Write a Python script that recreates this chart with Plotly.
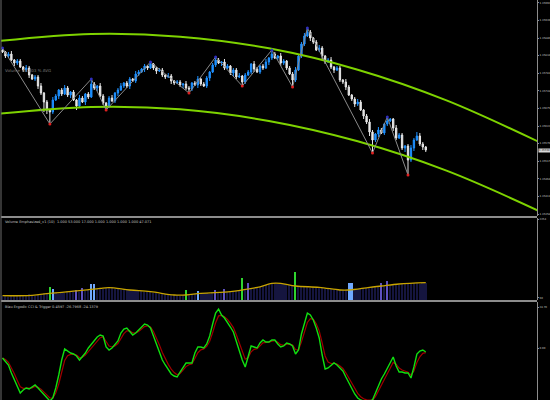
import plotly.graph_objects as go
import pandas as pd

# ---------------- main chart data (prices in points, 1 point = 0.00001) ----------------
first_open_points = 135850
close_points = [
    135844, 135832, 135838, 135820, 135811, 135817, 135799, 135790, 135796, 135775, 135763, 135769,
    135742, 135721, 135694, 135670, 135664, 135700, 135712, 135730, 135718, 135736, 135715, 135724,
    135700, 135682, 135706, 135694, 135718, 135709, 135748, 135736, 135742, 135712, 135691, 135682,
    135706, 135697, 135721, 135730, 135742, 135751, 135742, 135763, 135757, 135778, 135784, 135793,
    135802, 135796, 135808, 135796, 135787, 135790, 135775, 135769, 135772, 135757, 135751, 135754,
    135745, 135748, 135736, 135733, 135751, 135745, 135763, 135748, 135742, 135766, 135784, 135805,
    135820, 135811, 135814, 135796, 135802, 135781, 135790, 135769, 135772, 135754, 135775, 135784,
    135808, 135793, 135784, 135802, 135796, 135814, 135826, 135838, 135826, 135832, 135811, 135817,
    135796, 135778, 135760, 135790, 135832, 135868, 135892, 135904, 135886, 135874, 135850, 135856,
    135832, 135814, 135820, 135799, 135790, 135796, 135760, 135754, 135739, 135715, 135703, 135688,
    135694, 135670, 135652, 135634, 135604, 135580, 135598, 135610, 135601, 135628, 135637, 135643,
    135616, 135586, 135595, 135556, 135562, 135520, 135556, 135580, 135592, 135568, 135559, 135550,
]
upper_wick_points = [
    6, 3, 6, 9, 3, 6, 6, 3, 9, 6, 3, 6,
    6, 9, 3, 6, 3, 9, 6, 3, 6, 9, 6, 3,
    6, 3, 9, 6, 3, 6, 15, 6, 3, 9, 6, 3,
    6, 9, 3, 6, 9, 3, 6, 6, 3, 9, 6, 3,
    6, 3, 6, 3, 3, 6, 6, 3, 9, 6, 3, 6,
    6, 3, 9, 6, 3, 6, 9, 3, 6, 6, 3, 6,
    9, 6, 3, 9, 6, 3, 6, 6, 9, 3, 6, 6,
    3, 9, 6, 3, 6, 9, 3, 12, 6, 3, 9, 6,
    3, 6, 6, 9, 3, 6, 9, 12, 6, 3, 6, 9,
    6, 3, 6, 9, 3, 6, 6, 3, 9, 6, 3, 6,
    9, 6, 3, 6, 9, 6, 3, 9, 6, 3, 12, 3,
    3, 9, 6, 6, 3, 6, 9, 6, 12, 9, 6, 3,
]
lower_wick_points = [
    3, 6, 6, 3, 9, 6, 3, 6, 6, 9, 3, 6,
    9, 6, 30, 12, 36, 6, 3, 9, 6, 3, 6, 9,
    3, 12, 6, 3, 9, 6, 3, 6, 9, 3, 6, 12,
    6, 3, 6, 9, 3, 6, 6, 9, 3, 6, 6, 3,
    9, 6, 3, 6, 9, 3, 6, 6, 3, 9, 6, 3,
    6, 9, 6, 12, 6, 3, 9, 6, 3, 6, 9, 3,
    6, 3, 9, 6, 3, 6, 9, 6, 3, 12, 6, 3,
    6, 9, 3, 6, 6, 3, 9, 6, 3, 6, 9, 6,
    6, 3, 21, 6, 3, 6, 6, 3, 9, 6, 3, 6,
    9, 6, 3, 6, 9, 3, 6, 6, 9, 3, 6, 9,
    6, 3, 9, 6, 12, 39, 6, 9, 3, 6, 6, 3,
    9, 6, 3, 6, 12, 45, 6, 9, 3, 6, 9, 6,
]
zigzag_bars = [0, 16, 30, 35, 50, 63, 72, 81, 91, 98, 103, 125, 130, 137]
zigzag_kind = ["H", "L", "H", "L", "H", "L", "H", "L", "H", "L", "H", "L", "H", "L"]

channel_bars = [-1, 30, 60, 90, 120, 150, 182]
channel_upper = [1.35877, 1.35898, 1.35890, 1.35855, 1.35791, 1.35699, 1.35571]
channel_lower = [1.35659, 1.35679, 1.35672, 1.35637, 1.35576, 1.35488, 1.35364]

price_ticks = [1.35992, 1.35939, 1.35886, 1.35834, 1.35781, 1.35728, 1.35675,
               1.35622, 1.35570, 1.35517, 1.35464, 1.35411, 1.35358]

# ---------------- volume panel ----------------
volumes = [
    110, 140, 95, 130, 120, 150, 100, 135, 125, 160, 140, 120,
    170, 150, 190, 200, 373, 308, 210, 180, 230, 200, 250, 220,
    240, 280, 230, 336, 260, 280, 448, 440, 300, 340, 310, 350,
    330, 360, 300, 320, 290, 310, 270, 290, 250, 270, 240, 260,
    220, 250, 220, 200, 210, 180, 170, 160, 150, 140, 130, 150,
    120, 140, 280, 150, 160, 180, 252, 190, 200, 210, 180, 220,
    280, 210, 230, 308, 220, 240, 230, 250, 260, 616, 280, 476,
    300, 330, 350, 360, 390, 410, 440, 450, 480, 460, 470, 440,
    420, 410, 400, 784, 380, 370, 390, 360, 350, 370, 340, 350,
    330, 320, 300, 310, 290, 280, 270, 290, 280, 476, 470, 290,
    300, 320, 330, 340, 350, 360, 370, 380, 476, 400, 532, 400,
    420, 410, 430, 440, 450, 460, 440, 470, 480, 460, 490, 480,
]
green_bars = [16, 62, 81, 99]
lightblue_bars = [17, 30, 31, 66, 117, 118]
purple_bars = [25, 27, 72, 75, 83, 128, 130]
ma_bars = [0, 10, 16, 26, 33, 36, 43, 50, 58, 62, 67, 77, 81, 87, 91, 94, 99, 107, 114, 117, 124, 128, 134, 143]
ma_values = [120, 132, 188, 260, 327, 345, 280, 233, 140, 140, 187, 233, 280, 370, 467, 467, 392, 355, 280, 280, 355, 392, 448, 485]

# ---------------- Blau ergodic panel ----------------
ergodic = [
    -7.0, -9.1, -11.9, -17.5, -22.4, -27.3, -31.5, -29.4, -28.0, -28.7, -27.3, -25.9,
    -28.0, -30.1, -32.9, -35.0, -37.1, -35.0, -28.0, -18.9, -8.4, -0.7, -2.1, -3.5,
    -4.2, -5.6, -8.4, -6.3, -3.5, 0.0, 2.8, 5.6, 7.7, 9.1, 8.4, 0.7,
    -1.4, 0.0, 2.1, 4.9, 10.5, 13.3, 14.0, 11.9, 9.1, 10.5, 12.6, 14.7,
    16.8, 16.1, 14.0, 8.4, 2.8, -2.8, -8.4, -11.9, -15.4, -18.2, -19.6, -20.3,
    -16.8, -13.3, -10.5, -10.5, -10.5, -3.5, 0.7, 0.7, 0.0, 2.8, 8.4, 16.8,
    24.5, 27.3, 23.1, 21.0, 18.2, 14.7, 11.2, 4.2, -2.1, -8.4, -13.3, -5.6,
    1.4, 0.7, 0.0, 3.5, 5.6, 4.2, 4.2, 5.6, 5.6, 2.8, 0.7, 1.4,
    3.5, 2.8, 1.4, -4.2, -1.4, 9.8, 18.2, 24.5, 23.1, 19.6, 14.0, 7.0,
    -4.9, -14.7, -14.0, -11.9, -10.5, -11.9, -14.0, -16.1, -20.3, -24.5, -28.7, -32.2,
    -35.0, -36.4, -37.1, -37.1, -37.1, -36.4, -31.5, -26.6, -21.7, -18.2, -14.0, -9.8,
    -6.3, -12.6, -16.8, -16.8, -17.5, -17.5, -21.0, -13.3, -4.2, -2.1, -1.4, -2.8,
]

# ---------------- derived ----------------
n = len(close_points)
bars = list(range(n))
P = 1e-5
closes = [c * P for c in close_points]
opens_pts = [first_open_points] + close_points[:-1]
opens = [o * P for o in opens_pts]
highs = [(max(o, c) + u) * P for o, c, u in zip(opens_pts, close_points, upper_wick_points)]
lows = [(min(o, c) - l) * P for o, c, l in zip(opens_pts, close_points, lower_wick_points)]
zz_y = [highs[i] if k == "H" else lows[i] for i, k in zip(zigzag_bars, zigzag_kind)]
trigger = pd.Series(ergodic).ewm(span=3, adjust=False).mean().tolist()

vol_colors = []
for i in bars:
    if i in green_bars:
        vol_colors.append("#2fd42f")
    elif i in lightblue_bars:
        vol_colors.append("#6fa8ff")
    elif i in purple_bars:
        vol_colors.append("#5e50c0")
    else:
        vol_colors.append("#15153f")

fig = go.Figure()

# regression channel
for ch in (channel_upper, channel_lower):
    fig.add_trace(go.Scatter(x=channel_bars, y=ch, mode="lines",
                             line=dict(color="#7ed300", width=2, shape="spline"),
                             xaxis="x", yaxis="y", hoverinfo="skip"))

fig.add_trace(go.Candlestick(
    x=bars, open=opens, high=highs, low=lows, close=closes,
    increasing=dict(line=dict(color="#1e90ff", width=1), fillcolor="#1e90ff"),
    decreasing=dict(line=dict(color="#e6e6e6", width=1), fillcolor="#e6e6e6"),
    whiskerwidth=0, xaxis="x", yaxis="y"))

# zigzag
fig.add_trace(go.Scatter(x=zigzag_bars, y=zz_y, mode="lines",
                         line=dict(color="#8a8a8a", width=1), xaxis="x", yaxis="y"))
fig.add_trace(go.Scatter(
    x=zigzag_bars, y=zz_y, mode="markers",
    marker=dict(size=3, color=["#3030c0" if k == "H" else "#e02020" for k in zigzag_kind]),
    xaxis="x", yaxis="y"))

# volume
fig.add_trace(go.Bar(x=bars, y=volumes, marker=dict(color=vol_colors, line=dict(width=0)),
                     width=0.55, xaxis="x", yaxis="y2"))
fig.add_trace(go.Scatter(x=ma_bars, y=ma_values, mode="lines",
                         line=dict(color="#c8a400", width=1.3, shape="spline", smoothing=1),
                         xaxis="x", yaxis="y2"))

# ergodic
fig.add_trace(go.Scatter(x=bars, y=trigger, mode="lines",
                         line=dict(color="#a00000", width=1.2), xaxis="x", yaxis="y3"))
fig.add_trace(go.Scatter(x=bars, y=ergodic, mode="lines",
                         line=dict(color="#10e010", width=1.4), xaxis="x", yaxis="y3"))

axis_common = dict(side="right", showgrid=False, zeroline=False, showline=True,
                   linecolor="#8c8c8c", linewidth=1, ticks="outside", ticklen=1,
                   tickcolor="#8c8c8c", automargin=False,
                   tickfont=dict(size=2.6, color="#c8c8c8", family="DejaVu Sans"),
                   fixedrange=True)

fig.update_layout(
    width=550, height=400,
    margin=dict(l=1, r=13, t=0, b=0, autoexpand=False),
    paper_bgcolor="black", plot_bgcolor="black",
    showlegend=False, hovermode=False, boxgap=0.35, bargap=0,
    xaxis=dict(range=[-0.507, 180.58], visible=False, rangeslider=dict(visible=False),
               fixedrange=True, automargin=False),
    yaxis=dict(domain=[0.46, 1.0], range=[1.35352, 1.36000],
               tickvals=price_ticks, ticktext=[f"{v:.5f}" for v in price_ticks], **axis_common),
    yaxis2=dict(domain=[0.25, 0.455], range=[0, 2296],
                tickvals=[2254, 60], ticktext=["2254", "60"], **axis_common),
    yaxis3=dict(domain=[0.0, 0.245], range=[-36.4, 32.2],
                tickvals=[28.7, 0.0], ticktext=["28.70", "0.00"], **axis_common),
    shapes=[
        dict(type="rect", xref="paper", yref="paper", x0=0, x1=1, y0=0.455, y1=0.46,
             fillcolor="#8c8c8c", line=dict(width=0)),
        dict(type="rect", xref="paper", yref="paper", x0=0, x1=1, y0=0.245, y1=0.25,
             fillcolor="#8c8c8c", line=dict(width=0)),
        dict(type="line", xref="paper", yref="paper", x0=0, x1=0, y0=0, y1=1,
             line=dict(color="#6a6a6a", width=1)),
    ],
    annotations=[
        dict(xref="paper", yref="paper", x=0.004, y=1 - 70 / 400, xanchor="left", yanchor="middle",
             text="Volume  58.803 % AVG", showarrow=False,
             font=dict(size=4, color="#7a7a7a", family="DejaVu Sans")),
        dict(xref="paper", yref="paper", x=0.004, y=1 - 222 / 400, xanchor="left", yanchor="middle",
             text="Volume Emphasized_v1 (10)  1.000 53.000 17.000 1.000 1.000 1.000 1.000 47.071",
             showarrow=False, font=dict(size=3.5, color="#c0c0c0", family="DejaVu Sans")),
        dict(xref="paper", yref="paper", x=0.004, y=1 - 306.5 / 400, xanchor="left", yanchor="middle",
             text="Blau Ergodic CCI &amp; Trigger 0.4597 -26.7968 -24.1379",
             showarrow=False, font=dict(size=3.5, color="#c0c0c0", family="DejaVu Sans")),
        dict(xref="paper", yref="y", x=1, y=closes[-1], xanchor="left", yanchor="middle", xshift=1,
             text=f"{closes[-1]:.5f}", showarrow=False, bgcolor="#d8d8d8", borderpad=0,
             font=dict(size=2.6, color="#202020", family="DejaVu Sans")),
    ],
)

fig.write_html(
    "out.html",
    config={"displayModeBar": False},
    post_script="document.body.style.margin='0';document.body.style.background='black';",
)
